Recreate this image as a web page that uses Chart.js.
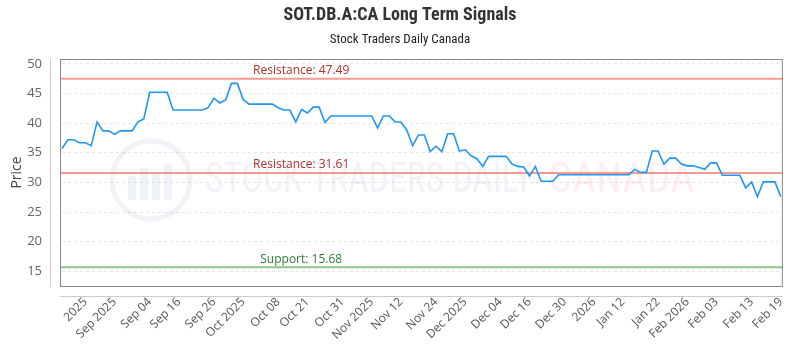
<!DOCTYPE html>
<html>
<head>
<meta charset="utf-8">
<script src="https://cdn.jsdelivr.net/npm/chart.js@4.4.1/dist/chart.umd.min.js"></script>
<style>
  html, body { margin: 0; padding: 0; background: #fff; }
  #wrap { width: 800px; height: 350px; }
</style>
</head>
<body>
<div id="wrap"><canvas id="signals-chart" width="800" height="350"></canvas></div>
<script>
const prices = [
  35.7, 37.2, 37.2, 36.7, 36.7, 36.2, 40.2, 38.7, 38.7, 38.1,
  38.7, 38.7, 38.7, 40.2, 40.7, 45.2, 45.2, 45.2, 45.2, 42.2,
  42.2, 42.2, 42.2, 42.2, 42.2, 42.6, 44.2, 43.4, 43.9, 46.7,
  46.7, 44.0, 43.2, 43.2, 43.2, 43.2, 43.2, 42.6, 42.2, 42.2,
  40.2, 42.3, 41.7, 42.7, 42.7, 40.1, 41.2, 41.2, 41.2, 41.2,
  41.2, 41.2, 41.2, 41.2, 39.2, 41.2, 41.2, 40.2, 40.2, 38.8,
  36.2, 38.0, 38.0, 35.2, 36.1, 35.2, 38.2, 38.2, 35.3, 35.5,
  34.5, 34.0, 32.7, 34.4, 34.4, 34.4, 34.4, 33.1, 32.7, 32.6,
  31.1, 32.7, 30.2, 30.2, 30.2, 31.3, 31.3, 31.3, 31.3, 31.3,
  31.3, 31.3, 31.3, 31.3, 31.3, 31.3, 31.3, 31.3, 32.2, 31.7,
  31.7, 35.3, 35.3, 33.1, 34.1, 34.1, 33.1, 32.8, 32.8, 32.5,
  32.2, 33.3, 33.3, 31.2, 31.2, 31.2, 31.2, 29.1, 30.1, 27.6,
  30.1, 30.1, 30.1, 27.6,
];

const tickIndex = [4, 9, 15, 20, 26, 31, 37, 42, 48, 53, 58, 64, 69, 75, 80, 86, 91, 96, 102, 107, 112, 118, 123];
const tickText = [
  "2025", "Sep 2025", "Sep 04", "Sep 16", "Sep 26", "Oct 2025", "Oct 08", "Oct 21",
  "Oct 31", "Nov 2025", "Nov 12", "Nov 24", "Dec 2025", "Dec 04", "Dec 16", "Dec 30",
  "2026", "Jan 12", "Jan 22", "Feb 2026", "Feb 03", "Feb 13", "Feb 19",
];

const levelValues = [47.49, 31.61, 15.68];
const levelNames = ["Resistance", "Resistance", "Support"];

const labels = prices.map((_, i) => {
  const k = tickIndex.indexOf(i);
  return k >= 0 ? tickText[k] : "";
});

const narrow = "'Liberation Sans Narrow', 'Roboto Condensed', Roboto, sans-serif";

// box, offset axis lines, title and the reference levels
const framePlugin = {
  id: "frame",
  beforeDatasetsDraw(chart) {
    const { ctx, chartArea, scales } = chart;
    const y = scales.y;
    ctx.save();

    // watermark
    ctx.globalAlpha = 0.07;
    ctx.strokeStyle = "#1f4e9a";
    ctx.fillStyle = "#1f4e9a";
    ctx.lineWidth = 5;
    ctx.beginPath();
    ctx.arc(151, 180, 39, 0, Math.PI * 2);
    ctx.stroke();
    [[128, 176, 8, 28], [140, 168, 8, 36], [152, 172, 8, 32], [164, 164, 8, 40]].forEach((b) => {
      ctx.fillRect(b[0], b[1], b[2], b[3] - 4);
    });
    ctx.font = "42px " + narrow;
    ctx.textBaseline = "middle";
    ctx.textAlign = "left";
    ctx.fillText("STOCK TRADERS DAILY", 205, 181, 328);
    ctx.fillStyle = "#e8202a";
    ctx.fillText("CANADA", 548, 181, 150);
    ctx.globalAlpha = 1;

    // support / resistance
    const lx = chartArea.left + (chartArea.right - chartArea.left) * 0.33;
    levelValues.forEach((v, i) => {
      const py = y.getPixelForValue(v);
      const isSup = levelNames[i] === "Support";
      ctx.strokeStyle = isSup ? "rgba(110,185,110,0.8)" : "rgba(240,120,110,0.75)";
      ctx.lineWidth = 2;
      ctx.beginPath();
      ctx.moveTo(chartArea.left - 2, py);
      ctx.lineTo(chartArea.right + 2, py);
      ctx.stroke();
      ctx.fillStyle = isSup ? "#2e7d32" : "#b0302a";
      ctx.font = "12px 'Open Sans', sans-serif";
      ctx.textAlign = "center";
      ctx.textBaseline = "bottom";
      ctx.fillText(levelNames[i] + ": " + v.toFixed(2), lx + 2, py - 2);
    });
    ctx.restore();
  },
  afterDraw(chart) {
    const { ctx, chartArea } = chart;
    ctx.save();
    ctx.strokeStyle = "#888";
    ctx.lineWidth = 1;
    ctx.strokeRect(chartArea.left - 1.5, chartArea.top + 0.5, chartArea.right - chartArea.left + 3, chartArea.bottom - chartArea.top);
    ctx.strokeStyle = "#ccc";
    ctx.beginPath();
    ctx.moveTo(50.5, chartArea.top);
    ctx.lineTo(50.5, chartArea.bottom + 1);
    ctx.moveTo(chartArea.left - 2, 296.5);
    ctx.lineTo(chartArea.right + 2, 296.5);
    ctx.stroke();

    ctx.fillStyle = "#333";
    ctx.textAlign = "center";
    ctx.textBaseline = "middle";
    ctx.font = "bold 18px " + narrow;
    ctx.fillText("SOT.DB.A:CA Long Term Signals", 400, 15);
    ctx.font = "13px " + narrow;
    ctx.fillStyle = "#222";
    ctx.fillText("Stock Traders Daily Canada", 400, 40);
    ctx.restore();
  },
};

new Chart(document.getElementById("signals-chart").getContext("2d"), {
  type: "line",
  data: {
    labels: labels,
    datasets: [
      {
        label: "Price",
        data: prices,
        borderColor: "#2196f3",
        borderWidth: 1.6,
        pointRadius: 0,
        tension: 0,
        fill: false,
      },
    ],
  },
  options: {
    responsive: false,
    animation: false,
    layout: { padding: { top: 59, right: 12, left: 0, bottom: 0 } },
    plugins: {
      legend: { display: false },
      title: { display: false },
      tooltip: { enabled: false },
    },
    scales: {
      x: {
        grid: { display: false, drawTicks: false },
        border: { display: false },
        ticks: {
          autoSkip: false,
          minRotation: 45,
          maxRotation: 45,
          padding: 9,
          color: "#555",
          font: { family: "'Open Sans', sans-serif", size: 12 },
        },
        afterFit(scale) {
          scale.height = 64;
        },
      },
      y: {
        min: 12.54,
        max: 50.81,
        grid: { color: "#e6e6e6", drawTicks: false },
        border: { display: false, dash: [3, 3] },
        ticks: {
          stepSize: 5,
          includeBounds: false,
          padding: 20,
          color: "#666",
          font: { family: "'Open Sans', sans-serif", size: 13 },
        },
        title: {
          display: true,
          text: "Price",
          color: "#444",
          padding: { top: 9 },
          font: { family: "'Open Sans', sans-serif", size: 14 },
        },
        afterFit(scale) {
          scale.width = 62;
        },
      },
    },
  },
  plugins: [framePlugin],
});
</script>
</body>
</html>
